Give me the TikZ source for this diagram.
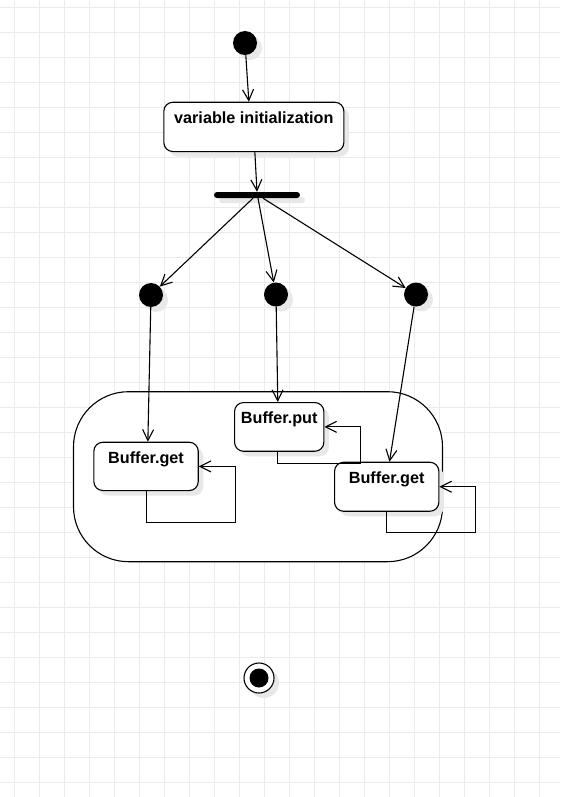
\documentclass[tikz,border=0pt]{standalone}
\usepackage{fontspec}
\setmainfont{Liberation Sans}
\usetikzlibrary{arrows.meta,calc,shadows}
\definecolor{gridc}{HTML}{EBEBEB}
\definecolor{shadowc}{HTML}{E8E8E8}
\begin{document}
\begin{tikzpicture}[x=1pt,y=-1pt,
  conn/.style={draw=black, line width=1.1pt, -{Straight Barb[length=11pt,width=11pt]}},
  shad/.style={drop shadow={shadow xshift=5pt, shadow yshift=-5pt, fill=shadowc, opacity=1}},
  act/.style={draw=black, line width=1.1pt, rounded corners=9pt, fill=white, shad,
    inner xsep=0pt, inner ysep=0pt, text height=21pt, anchor=north west,
    font=\fontsize{16.2}{19}\selectfont\bfseries},
  dot/.style={circle, fill=black, inner sep=0pt, minimum size=24pt, shad},
]
\useasboundingbox (0,0) rectangle (560,797);
\fill[white] (0,0) rectangle (560,797);
\foreach \x in {14,39,...,539} \draw[gridc, line width=0.9pt] (\x,0) -- (\x,797);
\foreach \y in {7,32,...,782} \draw[gridc, line width=0.9pt] (0,\y) -- (560,\y);

% container
\node[draw=black, line width=1.1pt, rounded corners=55pt, fill=white, minimum width=369pt, minimum height=170pt, inner sep=0pt] (region) at (258,476.7) {};

% start
\node[dot] (start) at (245,43) {};
\node[act, minimum width=180pt, text depth=28.3pt] (init) at (163.3,101.7) {variable initialization};
\node[fill=black, rounded corners=3pt, minimum width=86pt, minimum height=6pt, inner sep=0pt, shad] (bar) at (257,195) {};

\node[dot] (c1) at (151,295) {};
\node[dot] (c2) at (276,294.5) {};
\node[dot] (c3) at (416,294.5) {};

\node[act, minimum width=104.4pt, text depth=27.3pt] (bg1) at (93.3,441.7) {Buffer.get};
\node[act, minimum width=89.3pt, text depth=27.7pt] (bput) at (234,402) {Buffer.put};
\node[act, minimum width=104.3pt, text depth=28pt] (bg2) at (334,461.7) {Buffer.get};

% end
\node[circle, draw=black, line width=1.1pt, fill=white, minimum size=30pt, inner sep=0pt, shad] (fin) at (259,678) {};
\node[circle, fill=black, minimum size=19pt, inner sep=0pt] (fincore) at (fin.center) {};

% connectors
\draw[conn] (start) -- ([xshift=-5pt]init.north);
\draw[conn] ([xshift=1pt]init.south) -- ([yshift=0pt]bar.north);
\draw[conn] ($(bar.south)+(-4,0)$) -- (c1);
\draw[conn] ($(bar.south)+(1,0)$) -- (c2);
\draw[conn] ($(bar.south)+(6,0)$) -- (c3);
\draw[conn] (c1) -- ([xshift=1.8pt]bg1.north);
\draw[conn] (c2) -- ([xshift=-1.4pt]bput.north);
\draw[conn] (c3) -- ([xshift=2.8pt]bg2.north);

\draw[conn] (bg1.south) -- ++(0,31.7) -| ($(bg1.east)+(36.3,0)$) -- (bg1.east);
\draw[conn] ([xshift=-1.4pt]bput.south) -- ++(0,11.3) -| ($(bput.east)+(35.7,0)$) -- (bput.east);
\draw[conn] ([xshift=-0.5pt]bg2.south) -- ++(0,21) -| ($(bg2.east)+(36,0)$) -- (bg2.east);
\end{tikzpicture}
\end{document}
